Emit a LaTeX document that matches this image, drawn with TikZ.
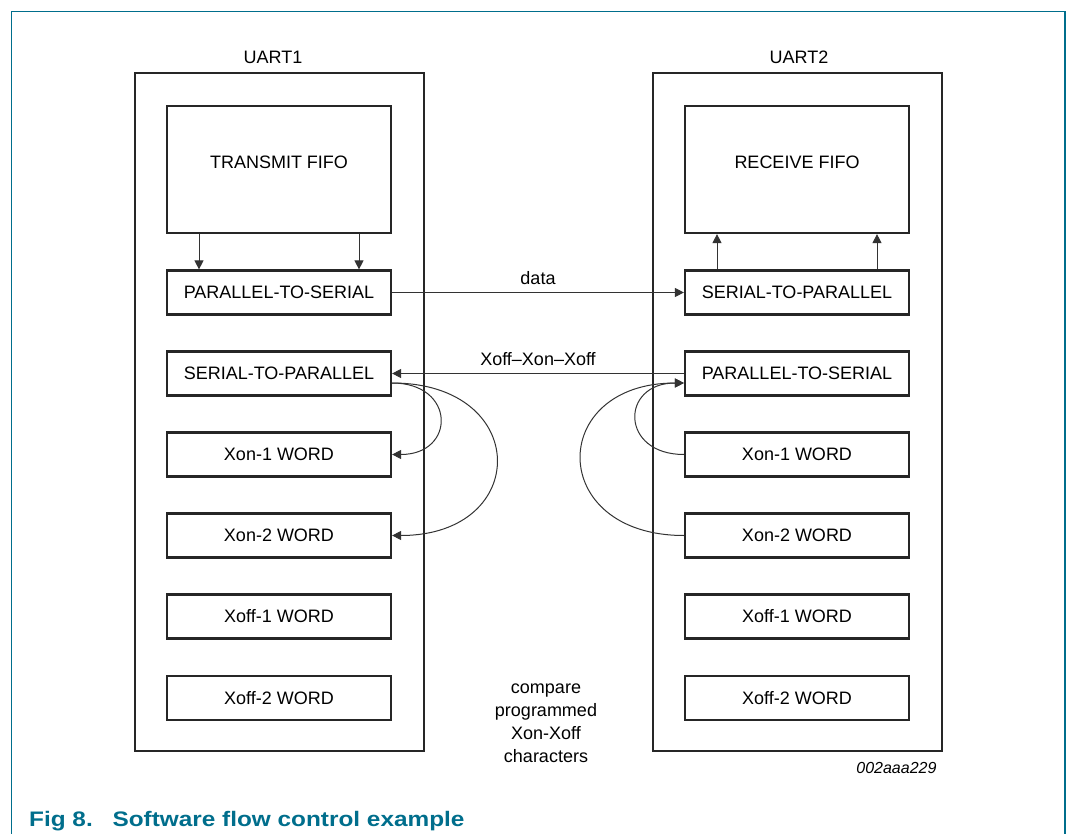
\documentclass[tikz,border=0pt]{standalone}
\usepackage{fontspec}
\setmainfont{Liberation Sans}
\usetikzlibrary{arrows.meta}
\definecolor{nxpblue}{RGB}{0,110,140}

\begin{document}
\begin{tikzpicture}[x=1pt, y=-1pt, >={Triangle[length=9pt,width=9pt]},
		box/.style={draw=black!85, line width=2.2pt, minimum width=224pt, minimum height=44pt, inner sep=0pt},
		uart/.style={draw=black!85, line width=2.6pt, minimum width=289pt, minimum height=678pt, inner sep=0pt},
		link/.style={draw=black!80, line width=1pt}]
		\tikzstyle{every node}=[font=\fontsize{18}{23}\selectfont, align=center]
		\useasboundingbox (0,0) rectangle (1066,834);
		\draw[nxpblue, line width=1.5pt] (11.5,834) -- (11.5,11.5) -- (1065,11.5) -- (1065,834);
		% UART1
		\node[uart] (U1) at (279.5,412) {};
		\node (U1t) at (273,57) {UART1};
		\node[box, minimum height=127pt] (TF) at (279,169.5) {\raisebox{15pt}{TRANSMIT FIFO}};
		\node[box] (PS1) at (279,292.5) {PARALLEL-TO-SERIAL};
		\node[box] (SP1) at (279,373.5) {SERIAL-TO-PARALLEL};
		\node[box] (XN1) at (279,454.5) {Xon-1 WORD};
		\node[box] (XN2) at (279,535.5) {Xon-2 WORD};
		\node[box] (XF1) at (279,616.5) {Xoff-1 WORD};
		\node[box] (XF2) at (279,698) {Xoff-2 WORD};
		% UART2
		\node[uart] (U2) at (797.5,412) {};
		\node (U2t) at (799,57) {UART2};
		\node[box, minimum height=127pt] (RF) at (797,169.5) {\raisebox{15pt}{RECEIVE FIFO}};
		\node[box] (SP2) at (797,292.5) {SERIAL-TO-PARALLEL};
		\node[box] (PS2) at (797,373.5) {PARALLEL-TO-SERIAL};
		\node[box] (XN3) at (797,454.5) {Xon-1 WORD};
		\node[box] (XN4) at (797,535.5) {Xon-2 WORD};
		\node[box] (XF3) at (797,616.5) {Xoff-1 WORD};
		\node[box] (XF4) at (797,698) {Xoff-2 WORD};
		% fifo links
		\draw[link, ->] ([xshift=-80pt]TF.south) -- ([xshift=-80pt]PS1.north);
		\draw[link, ->] ([xshift=80pt]TF.south) -- ([xshift=80pt]PS1.north);
		\draw[link, ->] ([xshift=-80pt]SP2.north) -- ([xshift=-80pt]RF.south);
		\draw[link, ->] ([xshift=80pt]SP2.north) -- ([xshift=80pt]RF.south);
		% serial lines
		\draw[link, ->] (PS1.east) -- (SP2.west) node[midway, above=4pt] {data};
		\draw[link, ->] (PS2.west) -- (SP1.east) node[midway, above=4pt] {Xoff--Xon--Xoff};
		% compare loops
		\draw[link, ->] ([yshift=-9.5pt]SP1.east) .. controls +(64,0) and +(64,0) .. (XN1.east);
		\draw[link, ->] ([yshift=-9.5pt]SP1.east) .. controls +(139,0) and +(139,0) .. (XN2.east);
		\draw[link, ->] (XN3.west) .. controls +(-64,0) and +(-64,0) .. ([yshift=-9.5pt]PS2.west);
		\draw[link, ->] (XN4.west) .. controls +(-137,0) and +(-137,0) .. ([yshift=-9.5pt]PS2.west);
		\node (CMP) at (546,723) {compare\\programmed\\Xon-Xoff\\characters};
		\node[anchor=east, font=\fontsize{16}{20}\selectfont\itshape] (ID) at (940,768) {002aaa229};
		\node[anchor=base west, inner sep=0pt, text=nxpblue, font=\fontsize{21}{25}\selectfont\bfseries] (CAP) at (29,826.7)
			{\scalebox{1.16}[1]{Fig 8.\hspace{17pt}Software flow control example}};
\end{tikzpicture}
\end{document}
